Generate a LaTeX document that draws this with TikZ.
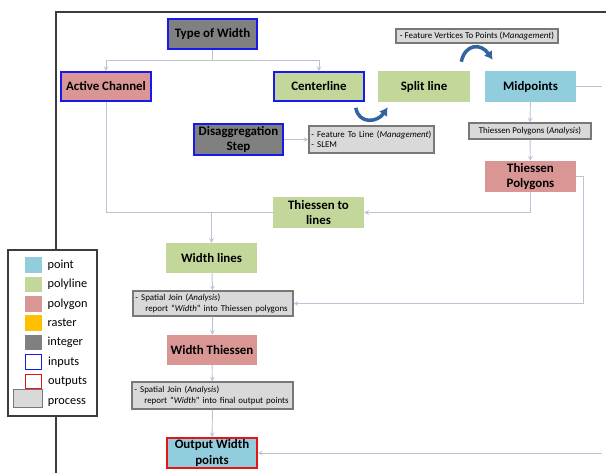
\documentclass[tikz,border=0pt]{standalone}
\usepackage{fontspec}
\setmainfont{Carlito}
\usepackage{xcolor}
\usepackage{tikz}
\usetikzlibrary{arrows, arrows.meta, positioning, calc}
\definecolor{pointc}{RGB}{146, 205, 221}
\definecolor{linec}{RGB}{196, 215, 155}
\definecolor{polyc}{RGB}{217, 150, 148}
\definecolor{rasterc}{RGB}{255, 192, 0}
\definecolor{intc}{RGB}{128, 128, 128}
\definecolor{inblue}{RGB}{25, 25, 235}
\definecolor{outred}{RGB}{230, 20, 20}
\definecolor{toolfill}{RGB}{217, 217, 217}
\definecolor{toolborder}{RGB}{120, 120, 120}
\definecolor{linkc}{RGB}{186, 196, 214}
\definecolor{swoopc}{RGB}{50, 100, 160}
\definecolor{framec}{RGB}{60, 60, 60}
\tikzstyle{layer} = [rectangle, minimum width=2.7cm, minimum height=0.9cm, inner sep=0pt, text centered, align=center, font=\bfseries\fontsize{11}{13.5}\selectfont]
\tikzstyle{input} = [draw=inblue, line width=1.4pt]
\tikzstyle{output} = [draw=outred, line width=1.4pt]
\tikzstyle{tool} = [rectangle, draw=toolborder, fill=toolfill, line width=0.9pt, inner sep=2pt, font=\fontsize{7.6}{9}\selectfont]
\tikzstyle{arrow} = [->, >=stealth, color=linkc, line width=0.8pt]
\tikzstyle{link} = [color=linkc, line width=0.8pt]
\tikzstyle{swoop} = [-{Latex[length=7pt, width=8.5pt]}, color=swoopc, line width=3pt]
\tikzstyle{swatch} = [rectangle, minimum width=0.5cm, minimum height=0.47cm, inner sep=0pt]
\tikzstyle{legtext} = [inner sep=0pt, font=\fontsize{10.5}{12}\selectfont]

\begin{document}
\begin{tikzpicture}[x=0.03cm, y=-0.03cm]
    \useasboundingbox (0,0) rectangle (606,473);
    % Frame
    \draw [framec, line width=1.6pt] (56,473) -- (56,12) -- (606,12);

    % Nodes
    \node (typew) [layer, input, fill=intc, minimum width=2.67cm] at (212.5,34) {Type of Width};
    \node (active) [layer, input, fill=polyc, minimum height=0.87cm] at (106,86.5) {Active Channel};
    \node (center) [layer, input, fill=linec, minimum height=0.87cm] at (319,86.5) {Centerline};
    \node (split) [layer, fill=linec, minimum width=2.76cm, minimum height=0.93cm] at (424,86.5) {Split line};
    \node (mid) [layer, fill=pointc, minimum width=2.73cm, minimum height=0.93cm] at (530.5,86.5) {Midpoints};
    \node (disagg) [layer, input, fill=intc, minimum width=2.67cm, minimum height=0.93cm] at (238.5,139.5) {Disaggregation\\Step};
    \node (thpoly) [layer, fill=polyc, minimum width=2.73cm, minimum height=0.93cm] at (530.5,176.5) {Thiessen\\Polygons};
    \node (thlines) [layer, fill=linec, minimum width=2.73cm, minimum height=0.93cm] at (318.5,212.5) {Thiessen to\\lines};
    \node (wlines) [layer, fill=linec, minimum width=2.73cm] at (211.5,258) {Width lines};
    \node (wthies) [layer, fill=polyc] at (212,350) {Width Thiessen};
    \node (outpts) [layer, output, fill=pointc] at (212,453) {Output Width\\points};

    % Tools
    \node (ftl) [tool, minimum width=3.75cm, minimum height=0.81cm, text width=3.6cm, align=left] at (371.5,139.5) {- Feature To Line (\textit{Management})\\- SLEM};
    \node (fvtp) [tool, minimum width=4.86cm, minimum height=0.42cm, inner sep=0pt] at (477,36) {- Feature Vertices To Points (\textit{Management})};
    \node (tpa) [tool, minimum width=3.66cm, minimum height=0.48cm, inner sep=0pt] at (530,131) {Thiessen Polygons (\textit{Analysis})};
    \node (join1) [tool, minimum width=4.8cm, minimum height=0.75cm, text width=4.65cm, align=left] at (213,303.5) {- Spatial Join (\textit{Analysis})\\\hspace*{1.1em}report “\textit{Width}” into Thiessen polygons};
    \node (join2) [tool, minimum width=4.83cm, minimum height=0.81cm, text width=4.68cm, align=left] at (212.5,395.5) {- Spatial Join (\textit{Analysis})\\\hspace*{1.1em}report “\textit{Width}” into final output points};

    % Arrows
    \coordinate (tsplit) at (212.5,60);
    \draw [link] (typew) -- (tsplit);
    \draw [arrow] (tsplit) -| (active);
    \draw [arrow] (tsplit) -| (center);
    \draw [arrow] (disagg) -- (ftl);
    \draw [swoop] ([shift={(-9,6)}]center.south east) .. controls +(3,17) and +(-10,15) .. ([shift={(10,5)}]split.south west);
    \draw [swoop] ([shift={(-9,-9)}]split.north east) .. controls +(4,-18) and +(-12,-17) .. ([shift={(8,-11)}]mid.north west);
    \coordinate (midout) at (602,86.5);
    \draw [link] (mid) -- (midout);
    \draw [arrow] (mid) -- (tpa);
    \draw [arrow] (tpa) -- (thpoly);
    \draw [arrow] (thpoly.south) |- (thlines.east);
    \draw [arrow] (thpoly.east) -- ++(7,0) |- (join1.east);
    \coordinate (jn) at (wlines.north |- thlines.west);
    \draw [link] (active.south) |- (thlines.west);
    \draw [arrow] (jn) -- (wlines);
    \draw [arrow] (wlines) -- (join1);
    \draw [arrow] (join1) -- (wthies);
    \draw [arrow] (wthies) -- (join2);
    \draw [arrow] (join2) -- (outpts);
    \coordinate (outin) at (602,453);
    \draw [arrow] (outin) -- (outpts);

    % Legend
    \node (legend) [rectangle, draw=framec, fill=white, line width=1.2pt, minimum width=2.67cm, minimum height=4.98cm] at (52.5,333) {};
    \node (lgpoint) [swatch, fill=pointc] at (33.5,265) {};
    \node (lgline) [swatch, fill=linec] at (33.5,284.5) {};
    \node (lgpoly) [swatch, fill=polyc] at (33.5,304) {};
    \node (lgraster) [swatch, fill=rasterc] at (33.5,323) {};
    \node (lgint) [swatch, fill=intc] at (33.5,342.5) {};
    \node (lgin) [swatch, draw=inblue, line width=0.9pt, minimum width=0.47cm, minimum height=0.44cm] at (33.5,362) {};
    \node (lgout) [swatch, draw=outred, line width=0.9pt, minimum width=0.47cm, minimum height=0.44cm] at (33.5,381.5) {};
    \node (lgtool) [swatch, fill=toolfill, draw=toolborder, line width=0.6pt, minimum width=0.87cm, minimum height=0.54cm] at (27.5,398) {};

    % Labels
    \node [legtext, right=0.16cm of lgpoint] {point};
    \node [legtext, right=0.16cm of lgline] {polyline};
    \node [legtext, right=0.16cm of lgpoly] {polygon};
    \node [legtext, right=0.16cm of lgraster] {raster};
    \node [legtext, right=0.16cm of lgint] {integer};
    \node [legtext, right=0.18cm of lgin] {inputs};
    \node [legtext, right=0.18cm of lgout] {outputs};
    \node [legtext, anchor=west] at ([xshift=0.16cm, yshift=-0.12cm]lgtool.east) {process};
\end{tikzpicture}
\end{document}
